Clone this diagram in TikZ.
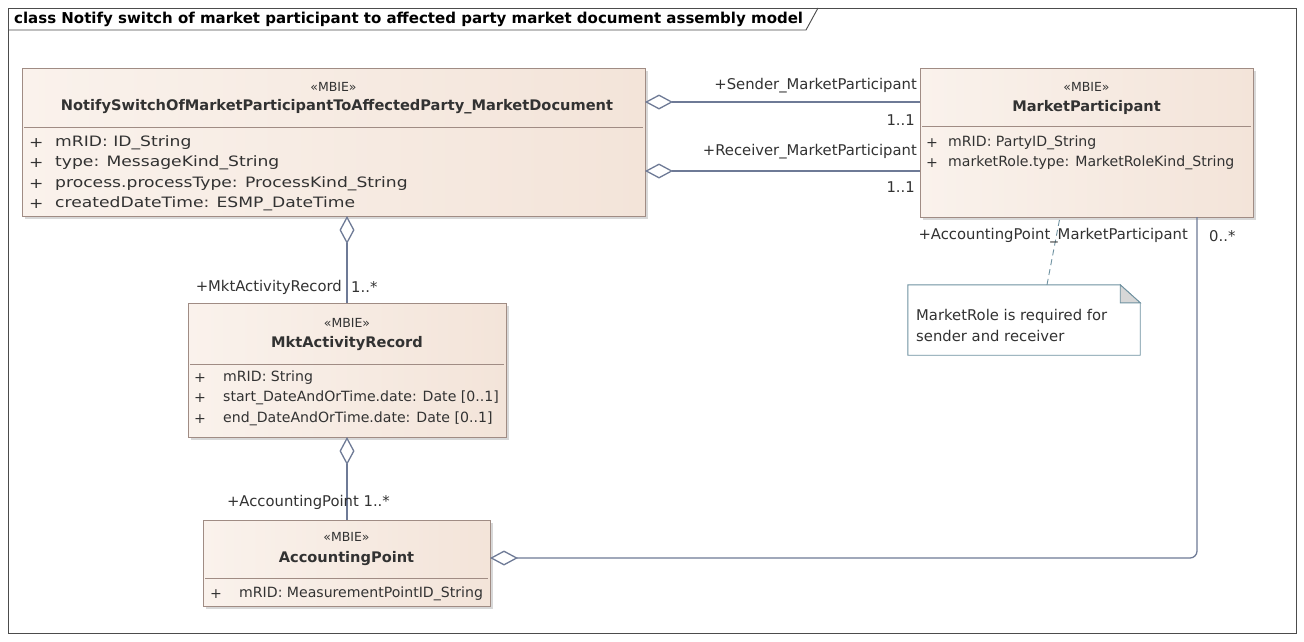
\documentclass[tikz,border=0pt]{standalone}
\usepackage{fontspec}
\setmainfont{DejaVu Sans}
\newfontfamily\wideattr[FakeStretch=1.2]{DejaVu Sans}
\usetikzlibrary{arrows.meta,calc,shadows}
\definecolor{boxA}{RGB}{250,242,236}
\definecolor{boxB}{RGB}{243,228,217}
\definecolor{boxline}{RGB}{160,140,132}
\definecolor{conn}{RGB}{110,122,150}
\definecolor{txt}{RGB}{50,50,50}
\definecolor{noteline}{RGB}{110,145,160}
\definecolor{fold}{RGB}{215,215,215}
\tikzset{
  classbox/.style={draw=boxline, line width=0.9pt, left color=boxA, right color=boxB,
    drop shadow={shadow xshift=3pt, shadow yshift=-3pt, fill=black!25, opacity=0.6},
    inner sep=0pt, outer sep=0pt},
  sep/.style={draw=boxline, line width=0.9pt},
  stereo/.style={font=\fontsize{12.5}{14}\selectfont, text=txt, inner sep=0pt},
  cname/.style={font=\bfseries\fontsize{14.6}{17}\selectfont, text=txt, inner sep=0pt},
  attr/.style={font=\fontsize{14.1}{16}\selectfont, text=txt, inner sep=0pt, anchor=west},
  docattr/.style={font=\wideattr\fontsize{14.3}{18}\selectfont, text=txt, inner sep=0pt, anchor=west},
  role/.style={font=\fontsize{14.8}{16}\selectfont, text=txt, inner sep=0pt},
  assoc/.style={draw=conn, line width=1.3pt},
  agg/.style={assoc, {Diamond[open, length=28pt, width=15pt, line width=1.3pt]}-},
}
\begin{document}
\begin{tikzpicture}[x=1pt,y=-1pt]
\useasboundingbox (0,0) rectangle (1304,641);
\fill[white] (0,0) rectangle (1304,641);
% frame
\draw[line width=0.9pt, draw=black!70] (8,8) rectangle (1296,633);
\draw[line width=0.9pt, draw=black!70] (8,30) -- (806,30) -- (818,8);
\node[anchor=west, inner sep=0pt, font=\bfseries\fontsize{15}{17}\selectfont, text=black] (title) at (14,19) {class Notify switch of market participant to affected party market document assembly model};

% Document box
\node[classbox, minimum width=623pt, minimum height=148pt] (doc) at (333.5,142) {};
\draw[sep] (24,127) -- (643,127);
\node[stereo] (docst) at (333.5,87) {«MBIE»};
\node[cname] (docnm) at (337,107) {NotifySwitchOfMarketParticipantToAffectedParty\_MarketDocument};
\foreach \y/\t [count=\i] in {143/{mRID: ID\_String},163/{type: MessageKind\_String},184/{process.processType: ProcessKind\_String},204/{createdDateTime: ESMP\_DateTime}}{
  \node[docattr] (docp\i) at (29,\y) {+};
  \node[docattr] (doca\i) at (55,\y) {\t};
}

% MarketParticipant
\node[classbox, minimum width=333pt, minimum height=149pt] (mp) at (1086.5,142.5) {};
\draw[sep] (922,126) -- (1251,126);
\node[stereo] (mpst) at (1086.5,87) {«MBIE»};
\node[cname] (mpnm) at (1086.5,107) {MarketParticipant};
\foreach \y/\t [count=\i] in {143/{mRID: PartyID\_String},163/{marketRole.type: MarketRoleKind\_String}}{
  \node[attr] (mpp\i) at (926,\y) {+};
  \node[attr] (mpa\i) at (948,\y) {\t};
}

% MktActivityRecord
\node[classbox, minimum width=318pt, minimum height=134pt] (mar) at (347,370) {};
\draw[sep] (190,364) -- (504,364);
\node[stereo] (marst) at (347,323) {«MBIE»};
\node[cname] (marnm) at (347,344) {MktActivityRecord};
\foreach \y/\t [count=\i] in {378/{mRID: String},398/{start\_DateAndOrTime.date: Date [0..1]},419/{end\_DateAndOrTime.date: Date [0..1]}}{
  \node[attr] (marp\i) at (194,\y) {+};
  \node[attr] (mara\i) at (223,\y) {\t};
}

% AccountingPoint
\node[classbox, minimum width=287pt, minimum height=86pt] (ap) at (346.5,563) {};
\draw[sep] (205,578) -- (488,578);
\node[stereo] (apst) at (346.5,537) {«MBIE»};
\node[cname] (apnm) at (346.5,559) {AccountingPoint};
\node[attr] (app1) at (210,594) {+};
\node[attr] (apa1) at (239,594) {mRID: MeasurementPointID\_String};

% Note
\node[minimum width=232pt, minimum height=70pt, inner sep=0pt] (note) at (1024,320) {};
\draw[draw=noteline, line width=0.9pt, fill=white]
  (note.north west) -- ([xshift=-20pt]note.north east) -- ([yshift=-18pt]note.north east) -- (note.south east) -- (note.south west) -- cycle;
\draw[draw=noteline, line width=0.9pt, fill=fold]
  ([xshift=-20pt]note.north east) -- ([xshift=-20pt,yshift=-18pt]note.north east) -- ([yshift=-18pt]note.north east) -- cycle;
\node[attr, align=left, font=\fontsize{14.8}{21}\selectfont] (notetxt) at (916,325.5) {MarketRole is required for\\sender and receiver};

% Connectors
\draw[agg] ([yshift=40pt]doc.east) -- ([yshift=40pt]doc.east -| mp.west);
\draw[agg] ([yshift=-29pt]doc.east) -- ([yshift=-29pt]doc.east -| mp.west);
\draw[agg] ([xshift=13.5pt]doc.south) -- (mar.north);
\draw[agg] (mar.south) -- (mar.south |- ap.north);
\draw[agg, rounded corners=7pt] ([yshift=5pt]ap.east) -| ([xshift=110.5pt]mp.south);
\draw[draw=noteline, line width=0.9pt, dash pattern=on 6pt off 4pt] ([xshift=23pt]note.north) -- ([xshift=-26.5pt]mp.south);

% Role labels
\node[role, anchor=east] (r1) at (917,86) {+Sender\_MarketParticipant};
\node[role, anchor=east] (r1m) at (915,120) {1..1};
\node[role, anchor=east] (r2) at (917,152) {+Receiver\_MarketParticipant};
\node[role, anchor=east] (r2m) at (915,187) {1..1};
\node[role, anchor=east] (r3) at (342,287) {+MktActivityRecord};
\node[role, anchor=west] (r3m) at (351,287) {1..*};
\node[role, anchor=east] (r4) at (390,502) {+AccountingPoint 1..*};
\node[role, anchor=east] (r5) at (1188,236) {+AccountingPoint\_MarketParticipant};
\node[role, anchor=west] (r5m) at (1209,236) {0..*};
\end{tikzpicture}
\end{document}
